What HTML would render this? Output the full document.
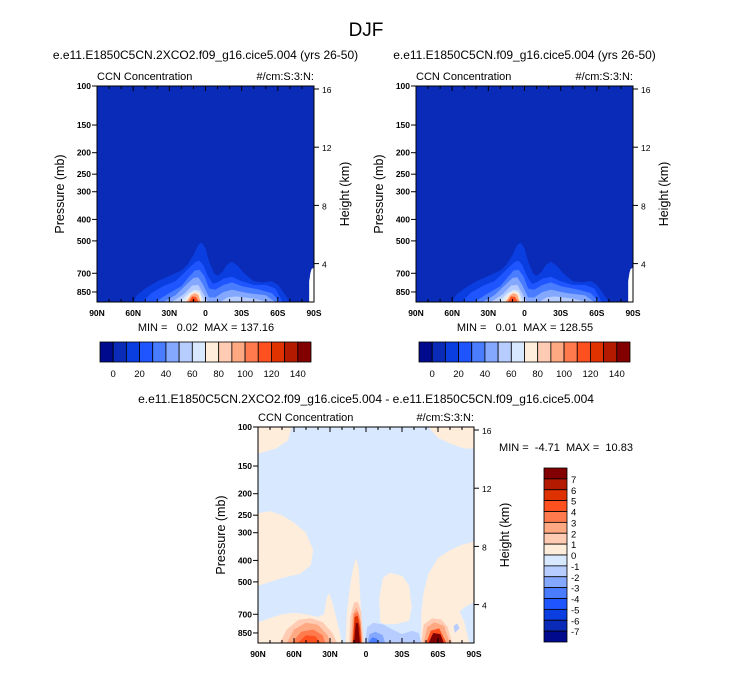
<!DOCTYPE html>
<html><head><meta charset="utf-8"><style>
body{margin:0;background:#fff;}
svg text{font-family:"Liberation Sans",sans-serif;white-space:pre;}
</style></head><body>
<svg id="s" width="733" height="668" xmlns="http://www.w3.org/2000/svg">
<text x="366" y="36" font-size="19" text-anchor="middle">DJF</text>
</svg>
<script>
// ---- data ----
const palette=['#000a8c','#0a2bb8','#0a3ee0','#1e55ff','#4a7cff','#85a8ff','#b7cdff','#d8e9ff','#ffeddc','#ffcbb2','#ffa982','#ff7a4c','#ff5020','#e03200','#b41a00','#820000'];
const topTicksP=[100,150,200,250,300,400,500,700,850];
const heightTicks=[4,8,12,16];
const latTicks=[90,60,30,0,-30,-60,-90];
const latLabels=['90N','60N','30N','0','30S','60S','90S'];
const cbTopLabels=['0','20','40','60','80','100','120','140'];
const cbDiffLabels=['7','6','5','4','3','2','1','0','-1','-2','-3','-4','-5','-6','-7'];
// [colorIndex, polygon of [lat, pressure]] ; base colour index 1
const leftFields=[
 [2,[[60,944],[57,880],[50,820],[40,760],[35,740],[30,720],[25,700],[20,680],[15,640],[10,580],[6,520],[3,510],[0,540],[-3,620],[-7,700],[-10,720],[-14,690],[-18,640],[-22,620],[-27,650],[-32,700],[-40,760],[-48,770],[-55,760],[-60,790],[-65,860],[-70,944]]],
 [3,[[52,944],[45,860],[35,800],[25,760],[18,700],[12,650],[8,620],[5,615],[2,640],[-2,720],[-6,780],[-10,770],[-15,740],[-22,725],[-30,760],[-40,790],[-50,790],[-58,820],[-64,944]]],
 [4,[[42,944],[30,860],[20,800],[14,730],[9,680],[5,675],[1,720],[-3,820],[-8,830],[-15,790],[-22,770],[-30,800],[-45,830],[-55,860],[-62,944]]],
 [5,[[35,944],[25,880],[16,790],[10,735],[6,730],[2,790],[-3,900],[-8,900],[-15,850],[-22,830],[-35,860],[-50,880],[-58,944]]],
 [6,[[28,944],[18,870],[11,795],[6,790],[2,860],[-2,944]]],
 [6,[[-12,944],[-18,900],[-25,890],[-40,910],[-52,944]]],
 [7,[[22,944],[14,860],[9,830],[5,840],[1,944]]],
 [8,[[18,944],[13,870],[9,845],[5,860],[3,944]]],
 [10,[[16,944],[12,880],[9,860],[6,875],[4,944]]],
 [12,[[14,944],[11,890],[8,895],[5.5,944]]],
 [13,[[12.5,944],[10,910],[7,944]]]
];
const rightFields=leftFields.slice(0,10);
const missing=[[-86,944],[-86,760],[-87,700],[-88,670],[-90,660],[-90,944]];
const diffFields=[
 [8,[[90,100],[62,100],[65,115],[75,125],[90,132]]],
 [8,[[-52,100],[-60,112],[-72,120],[-82,125],[-90,125],[-90,100]]],
 [8,[[90,245],[80,240],[70,250],[60,270],[50,300],[44,360],[46,420],[55,460],[70,480],[90,520]]],
 [8,[[90,944],[90,760],[80,730],[70,700],[60,690],[50,700],[40,720],[35,700],[33,600],[31,560],[28,620],[25,720],[22,840],[20,944]]],
 [8,[[17,944],[16,700],[14,560],[12,470],[10,420],[8,390],[6,440],[5,560],[4,700],[2,944]]],
 [8,[[-12,760],[-11,600],[-14,480],[-20,455],[-30,470],[-36,520],[-38,650],[-36,750],[-25,775],[-15,775]]],
 [8,[[-90,944],[-90,330],[-80,340],[-70,360],[-60,390],[-52,460],[-48,560],[-46,700],[-46,944]]],
 [7,[[-86,944],[-82,760],[-78,680],[-84,640],[-90,620],[-90,944]]],
 [6,[[-74,850],[-73,790],[-76,770],[-78,810]]],
 [6,[[1,944],[-1,800],[-6,765],[-15,780],[-22,820],[-30,860],[-38,830],[-44,850],[-46,944]]],
 [5,[[-1,944],[-3,860],[-8,840],[-14,870],[-16,944]]],
 [4,[[-2,944],[-5,890],[-9,900],[-11,944]]],
 [9,[[72,944],[66,820],[56,740],[46,730],[36,760],[28,850],[24,944]]],
 [10,[[66,944],[60,820],[50,765],[40,780],[32,870],[30,944]]],
 [11,[[62,944],[54,840],[44,820],[36,870],[34,944]]],
 [12,[[57,944],[50,870],[42,880],[38,944]]],
 [9,[[14,944],[13,720],[10,620],[7,615],[4,680],[2,944]]],
 [10,[[12.5,944],[11,700],[8,650],[5,720],[3,944]]],
 [11,[[11.5,944],[10,700],[7,680],[4.5,760],[3.5,944]]],
 [13,[[11,944],[9.5,720],[7,710],[5,800],[4,944]]],
 [15,[[10,944],[8.5,765],[6.5,770],[5,944]]],
 [9,[[-46,944],[-48,780],[-55,730],[-63,740],[-68,800],[-72,944]]],
 [10,[[-48,944],[-51,800],[-57,760],[-65,790],[-70,944]]],
 [12,[[-50,944],[-54,830],[-61,810],[-67,944]]],
 [15,[[-52,944],[-56,850],[-62,860],[-65,944]]]
];
// ---- drawing ----
const S=document.getElementById('s'),NS='http://www.w3.org/2000/svg';
function mk(t,a,p){const e=document.createElementNS(NS,t);for(const k in a)e.setAttribute(k,a[k]);(p||S).appendChild(e);return e;}
function txt(x,y,s,size,anchor,extra){const e=mk('text',Object.assign({x:x,y:y,'font-size':size,'text-anchor':anchor||'start'},extra||{}));e.textContent=s;return e;}
function panel(L,T,W,H,bg,fields,nm,title,minmax,mmx,mmy){
 const xs=lat=>L+(90-lat)/180*W, ys=p=>T+221.6*Math.log10(p/100);
 const hs=h=>T+3+(16-h)*14.55;
 const g=mk('g',{});
 
 
 const cp=mk('clipPath',{id:'c'+nm},g);mk('rect',{x:L,y:T,width:W,height:H},cp);
 const fg=mk('g',{'clip-path':'url(#c'+nm+')'},g);
 const r=mk('rect',{x:L,y:T,width:W,height:H,fill:palette[bg]},fg);
 
 
 fields.forEach(f=>{const e=mk('polygon',{points:f[1].map(q=>xs(q[0]).toFixed(1)+','+ys(q[1]).toFixed(1)).join(' '),fill:palette[f[0]]},fg);
  
  });
 if(nm!=='diff-panel'){const e=mk('polygon',{points:missing.map(q=>xs(q[0])+','+ys(q[1])).join(' '),fill:'#fff'},fg);
  
  }
 mk('rect',{x:L,y:T,width:W,height:H,fill:'none',stroke:'#000','stroke-width':1},g);
 topTicksP.forEach(p=>{const y=ys(p);mk('line',{x1:L-5,x2:L,y1:y,y2:y,stroke:'#000'},g);
  const t=txt(L-6,y+3,String(p),8.5,'end',{'font-weight':'bold'});});
 heightTicks.forEach(h=>{const y=hs(h);mk('line',{x1:L+W,x2:L+W+5,y1:y,y2:y,stroke:'#000'},g);
  const t=txt(L+W+8,y+4,String(h),8.5,'start');});
 for(let lat=90;lat>=-90;lat-=10){const x=xs(lat),len=lat%30===0?5:3;
  mk('line',{x1:x,x2:x,y1:T,y2:T+len,stroke:'#000'},g);mk('line',{x1:x,x2:x,y1:T+H,y2:T+H-len,stroke:'#000'},g);}
 latTicks.forEach((lat,i)=>{const t=txt(xs(lat),T+H+14,latLabels[i],8.5,'middle',{'font-weight':'bold'});});
 let t=txt(L-33,T+H/2,'Pressure (mb)',12.5,'middle',{transform:'rotate(-90 '+(L-33)+' '+(T+H/2)+')'});
 t=txt(L+W+35,T+H/2,'Height (km)',12.5,'middle',{transform:'rotate(-90 '+(L+W+35)+' '+(T+H/2)+')'});
 t=txt(L,T-6,'CCN Concentration',11,'start');
 t=txt(L+W,T-6,'#/cm:S:3:N:',11,'end');
 t=txt(mmx,mmy,minmax,11,'middle');
 if(title){t=txt(L+W/2,T-27,title,12,'middle');}
}
panel(97,86,217,216,1,leftFields,'left-panel','e.e11.E1850C5CN.2XCO2.f09_g16.cice5.004 (yrs 26-50)','MIN =   0.02  MAX = 137.16',206,331);
panel(416,86,217,216,1,rightFields,'right-panel','e.e11.E1850C5CN.f09_g16.cice5.004 (yrs 26-50)','MIN =   0.01  MAX = 128.55',525,331);
panel(258,427,216,216,7,diffFields,'diff-panel',null,'MIN =  -4.71  MAX =  10.83',566,451);
let tt=txt(366,403,'e.e11.E1850C5CN.2XCO2.f09_g16.cice5.004 - e.e11.E1850C5CN.f09_g16.cice5.004',12,'middle');

// horizontal colorbars
[[100,'left-colorbar'],[419,'right-colorbar']].forEach(([x0,nm])=>{
 const g=mk('g',{});
 const w=211/16;
 palette.forEach((c,i)=>{const r=mk('rect',{x:x0+i*w,y:342,width:w,height:20,fill:c,stroke:'#000','stroke-width':0.8},g);
  });
 cbTopLabels.forEach((l,i)=>{const t=txt(x0+(1+2*i)*w,377,l,9.5,'middle');});
});
// vertical colorbar
{const g=mk('g',{});
 const h=174/16;
 palette.slice().reverse().forEach((c,i)=>{const r=mk('rect',{x:544,y:468+i*h,width:23,height:h,fill:c,stroke:'#000','stroke-width':0.8},g);
  });
 cbDiffLabels.forEach((l,i)=>{const t=txt(571,468+(i+1)*h+4,l,9.5,'start');});
}
</script>
</body></html>
